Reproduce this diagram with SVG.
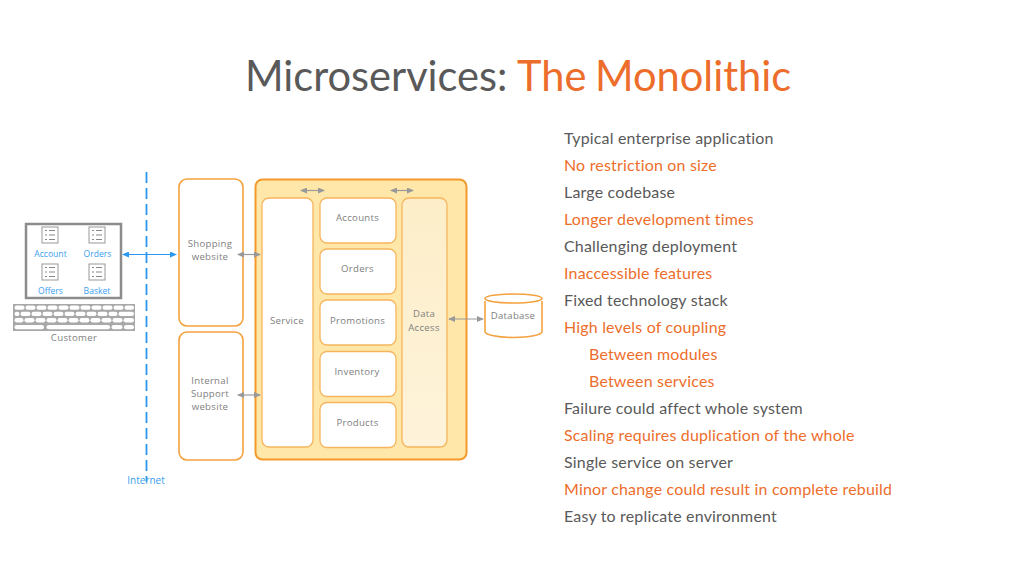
<svg xmlns="http://www.w3.org/2000/svg" width="1024" height="576" viewBox="0 0 1024 576">
<style>
text{font-family:"Open Sans","Noto Sans","Liberation Sans",sans-serif}
.t{font-size:41.600px;font-family:Lato,"Open Sans","Liberation Sans",sans-serif}
.l,.o{font-size:15.950px;font-family:Lato,"Open Sans","Liberation Sans",sans-serif;letter-spacing:.2px}
.l{fill:#595959}
.o{fill:#ed6d2b}
.n{font-size:9.6px;fill:#808080;text-anchor:middle;letter-spacing:.3px}
.b{font-size:8.6px;fill:#3aa0ee;text-anchor:middle}
.box{fill:#fff;stroke:#f6b55e;stroke-width:1.3}
.main{fill:#fff;stroke:#f4a23f;stroke-width:1.6}
.a{stroke:#999;stroke-width:1.2;fill:none;marker-start:url(#gs);marker-end:url(#ge)}
.ic{fill:#fff;stroke:#999;stroke-width:1}
.il{stroke:#888;stroke-width:1}
.k rect{fill:#fff;height:4.300px;rx:2.100px}
</style>
<defs>
<marker id="ge" markerWidth="7" markerHeight="6" refX="6" refY="3" orient="auto" markerUnits="userSpaceOnUse"><path d="M0 0L7 3L0 6z" fill="#999"/></marker>
<marker id="gs" markerWidth="7" markerHeight="6" refX="1" refY="3" orient="auto" markerUnits="userSpaceOnUse"><path d="M7 0L0 3L7 6z" fill="#999"/></marker>
<marker id="be" markerWidth="7" markerHeight="6" refX="6" refY="3" orient="auto" markerUnits="userSpaceOnUse"><path d="M0 0L7 3L0 6z" fill="#2a97f0"/></marker>
<marker id="bs" markerWidth="7" markerHeight="6" refX="1" refY="3" orient="auto" markerUnits="userSpaceOnUse"><path d="M7 0L0 3L7 6z" fill="#2a97f0"/></marker>
<g id="icon"><rect class="ic" x="-8" y="-8" width="16" height="16"/><path class="il" d="M-5-4.500h2M-1-4.500h6M-5 0h2M-1 0h6M-5 4.500h2M-1 4.500h6"/></g>
<linearGradient id="da" x1="0" y1="0" x2="0" y2="1"><stop offset="0" stop-color="#fdeec9"/><stop offset="1" stop-color="#fef3da"/></linearGradient>
</defs>
<rect width="1024" height="576" fill="#fff"/>
<text id="title" class="t" y="91" fill="#595959"><tspan x="245">Microservices:</tspan><tspan x="517" fill="#ed6d2b">The</tspan><tspan x="595" fill="#ed6d2b">Monolithic</tspan></text>
<g id="customer">
<rect x="26" y="224" width="95" height="74" fill="#fff" stroke="#8c8c8c" stroke-width="2.500"/>
<use href="#icon" x="50" y="235"/><use href="#icon" x="97" y="235"/><use href="#icon" x="50" y="272"/><use href="#icon" x="97" y="272"/>
<text class="b" x="50.500" y="257">Account</text><text class="b" x="97.500" y="257">Orders</text><text class="b" x="50.500" y="293.500">Offers</text><text class="b" x="97" y="293.500">Basket</text>
<rect x="13" y="304" width="122" height="27" fill="#a8a8a8"/>
<g class="k">
<rect x="14.500" y="305.500" width="10"/><rect x="25.500" y="305.500" width="10"/><rect x="36.500" y="305.500" width="10"/><rect x="47.500" y="305.500" width="10"/><rect x="58.500" y="305.500" width="10"/><rect x="69.500" y="305.500" width="10"/><rect x="80.500" y="305.500" width="10"/><rect x="91.500" y="305.500" width="10"/><rect x="102.500" y="305.500" width="10"/><rect x="113.500" y="305.500" width="10"/><rect x="124.500" y="305.500" width="9.500"/>
<rect x="14.500" y="311.800" width="5"/><rect x="20.500" y="311.800" width="10"/><rect x="31.500" y="311.800" width="10"/><rect x="42.500" y="311.800" width="10"/><rect x="53.500" y="311.800" width="10"/><rect x="64.500" y="311.800" width="10"/><rect x="75.500" y="311.800" width="10"/><rect x="86.500" y="311.800" width="10"/><rect x="97.500" y="311.800" width="10"/><rect x="108.500" y="311.800" width="9"/><rect x="118.500" y="311.800" width="15.500"/>
<rect x="14.500" y="318.100" width="9"/><rect x="24.500" y="318.100" width="10"/><rect x="35.500" y="318.100" width="10"/><rect x="46.500" y="318.100" width="10"/><rect x="57.500" y="318.100" width="10"/><rect x="68.500" y="318.100" width="10"/><rect x="79.500" y="318.100" width="10"/><rect x="90.500" y="318.100" width="10"/><rect x="101.500" y="318.100" width="10"/><rect x="112.500" y="318.100" width="10"/><rect x="123.500" y="318.100" width="10.500"/>
<rect x="14.500" y="325" width="29.500"/><rect x="46.500" y="325" width="63.500"/><rect x="111.500" y="325" width="11"/><rect x="124" y="325" width="10"/>
</g>
<text class="n" x="74" y="341">Customer</text>
</g>
<g id="internet">
<line x1="146.500" y1="172" x2="146.500" y2="482" stroke="#2a97f0" stroke-width="1.800" stroke-dasharray="11 5"/>
<text class="b" x="146" y="484" style="font-size:10px">Internet</text>
</g>
<g id="shopping"><rect class="main" x="179" y="179" width="64" height="147" rx="8"/><text class="n" x="210" y="247">Shopping</text><text class="n" x="210" y="260">website</text></g>
<g id="support"><rect class="main" x="179" y="332" width="64" height="128" rx="8"/><text class="n" x="210" y="383.500">Internal</text><text class="n" x="210" y="397">Support</text><text class="n" x="210" y="410">website</text></g>
<g id="monolith"><rect x="255.500" y="179.500" width="211" height="280" rx="7" fill="#fee7a8" stroke="#f39a2b" stroke-width="2"/></g>
<g id="service"><rect class="box" x="262" y="198" width="51" height="249" rx="7"/><text class="n" x="287" y="323.500">Service</text></g>
<g id="accounts"><rect class="box" x="320" y="198" width="76" height="45" rx="7"/><text class="n" x="357.500" y="221">Accounts</text></g>
<g id="orders"><rect class="box" x="320" y="249" width="76" height="45" rx="7"/><text class="n" x="357.500" y="272">Orders</text></g>
<g id="promotions"><rect class="box" x="320" y="300" width="76" height="45" rx="7"/><text class="n" x="357.500" y="323.500">Promotions</text></g>
<g id="inventory"><rect class="box" x="320" y="351.500" width="76" height="45" rx="7"/><text class="n" x="357" y="374.500">Inventory</text></g>
<g id="products"><rect class="box" x="320" y="402.500" width="76" height="45" rx="7"/><text class="n" x="357.500" y="425.500">Products</text></g>
<g id="data-access"><rect x="402" y="198" width="45" height="249" rx="7" fill="url(#da)" stroke="#f6b55e" stroke-width="1.300"/><text class="n" x="424" y="316.500">Data</text><text class="n" x="424" y="330.500">Access</text></g>
<g id="database"><path d="M485 301V331.500C485 335 498 337.500 513.500 337.500S542 335 542 331.500V301" fill="#fff" stroke="#f4a23f" stroke-width="1.600"/><ellipse cx="513.500" cy="298.500" rx="28.500" ry="4.500" fill="#fff" stroke="#f4a23f" stroke-width="1.600"/><text class="n" x="513" y="319">Database</text></g>
<g id="connectors">
<line x1="123" y1="254.500" x2="176" y2="254.500" stroke="#2a97f0" stroke-width="1.200" marker-start="url(#bs)" marker-end="url(#be)"/>
<line class="a" x1="238" y1="254.500" x2="260" y2="254.500"/>
<line class="a" x1="238" y1="395" x2="260" y2="395"/>
<line class="a" x1="301" y1="190.500" x2="324" y2="190.500"/>
<line class="a" x1="391" y1="190.500" x2="413" y2="190.500"/>
<line class="a" x1="449" y1="319" x2="483" y2="319"/>
</g>
<g id="bullets">
<text class="l" x="564" y="144">Typical enterprise application</text>
<text class="o" x="564" y="171">No restriction on size</text>
<text class="l" x="564" y="198">Large codebase</text>
<text class="o" x="564" y="225">Longer development times</text>
<text class="l" x="564" y="252">Challenging deployment</text>
<text class="o" x="564" y="279">Inaccessible features</text>
<text class="l" x="564" y="306">Fixed technology stack</text>
<text class="o" x="564" y="333">High levels of coupling</text>
<text class="o" x="589" y="360">Between modules</text>
<text class="o" x="589" y="387">Between services</text>
<text class="l" x="564" y="414">Failure could affect whole system</text>
<text class="o" x="564" y="441">Scaling requires duplication of the whole</text>
<text class="l" x="564" y="468">Single service on server</text>
<text class="o" x="564" y="495">Minor change could result in complete rebuild</text>
<text class="l" x="564" y="522">Easy to replicate environment</text>
</g>
</svg>
